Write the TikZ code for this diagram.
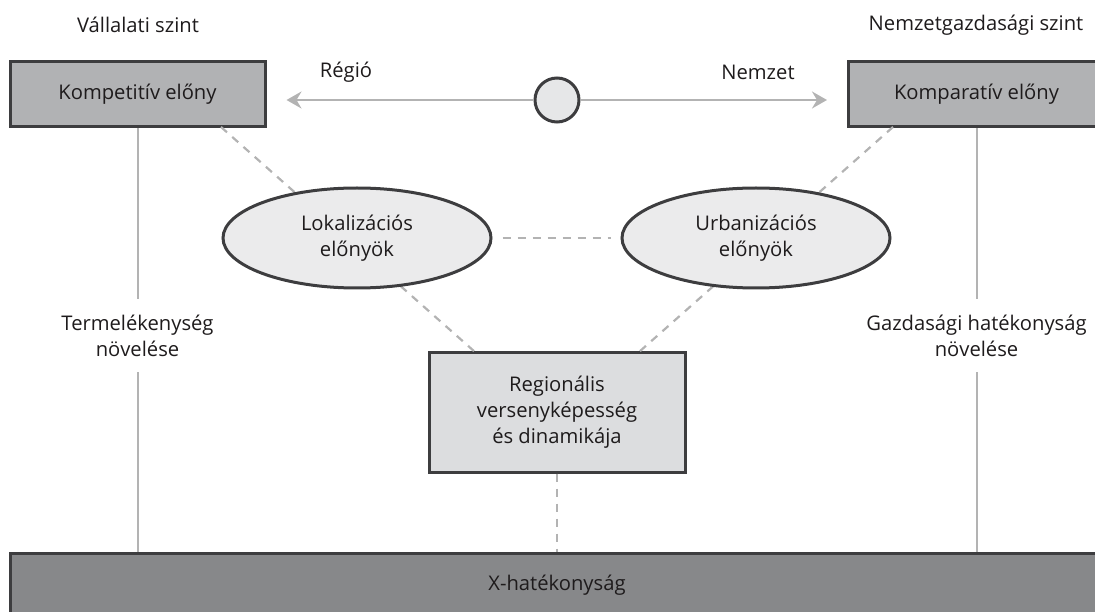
\documentclass[tikz,border=0pt]{standalone}
\usepackage{fontspec}
\setmainfont{Open Sans}
\usetikzlibrary{shapes,arrows,arrows.meta}

\definecolor{txtgray}{HTML}{1E1B1C}
\definecolor{edgegray}{HTML}{3D3D3F}
\definecolor{conngray}{HTML}{B3B3B3}
\definecolor{boxgray}{HTML}{B1B2B4}
\definecolor{xgray}{HTML}{87888A}
\definecolor{reggray}{HTML}{DCDDDF}
\definecolor{ellgray}{HTML}{EBEBEC}
\definecolor{circgray}{HTML}{E6E7E8}

\begin{document}
\begin{tikzpicture}[x=1pt,y=-1pt]
	\tikzstyle{every node}=[font=\fontsize{20.2}{26}\selectfont, text=txtgray]
	\tikzstyle{darkbox}=[draw=edgegray, line width=3, fill=boxgray, minimum height=65, inner sep=0]
	\tikzstyle{regbox}=[draw=edgegray, line width=3, fill=reggray, minimum width=256, minimum height=120, inner sep=0, align=center]
	\tikzstyle{xbox}=[draw=edgegray, line width=3, fill=xgray, minimum width=1094, minimum height=94, inner sep=0]
	\tikzstyle{advell}=[ellipse, draw=edgegray, line width=3, fill=ellgray, minimum width=268, minimum height=100, inner sep=0, align=center]
	\tikzstyle{solidconn}=[conngray, line width=2]
	\tikzstyle{dashconn}=[conngray, line width=2.2, dash pattern=on 8pt off 7pt]
	\tikzstyle{sidelbl}=[align=center, minimum height=73, inner sep=0]

	\useasboundingbox (0,0) rectangle (1095,612);

	%% levels
	\node (valszint) at (138,25) {Vállalati szint};
	\node (nemszint) at (976,25) {Nemzetgazdasági szint};

	%% boxes
	\node[darkbox, minimum width=255] (kompet) at (137.5,94.5) {Kompetitív előny};
	\node[darkbox, minimum width=256] (kompar) at (976.5,94.5) {Komparatív előny};
	\node[regbox] (region) at (557,412) {Regionális\\versenyképesség\\és dinamikája};
	\node[xbox] (xhat) at (557,600) {};
	\node (xhatlbl) at (557,585) {X-hatékonyság};

	%% centre and arrows
	\node[circle, draw=edgegray, line width=3, fill=circgray, minimum size=44, inner sep=0] (kozep) at (557,100) {};
	\draw[solidconn, -{Stealth[length=15pt, width=17pt, inset=5pt]}, shorten >=20pt] (kozep) -- (kozep -| kompet.east);
	\draw[solidconn, -{Stealth[length=15pt, width=17pt, inset=5pt]}, shorten >=20pt] (kozep) -- (kozep -| kompar.west);
	\node (regio) at (346,72) {Régió};
	\node (nemzet) at (758,72) {Nemzet};

	%% side lines
	\node[sidelbl] (termlbl) at (137.5,335.5) {Termelékenység\\növelése};
	\node[sidelbl] (gazdlbl) at (976.5,335.5) {Gazdasági hatékonyság\\növelése};
	\draw[solidconn] (kompet.south) -- (termlbl.north);
	\draw[solidconn] (termlbl.south) -- (termlbl.south |- xhat.north);
	\draw[solidconn] (kompar.south) -- (gazdlbl.north);
	\draw[solidconn] (gazdlbl.south) -- (gazdlbl.south |- xhat.north);

	%% dashed links (behind the ellipses)
	\coordinate (kompetfoot) at (221,127);
	\coordinate (komparfoot) at (893,127);
	\coordinate (regleft) at (475,352);
	\coordinate (regright) at (639,352);
	\draw[dashconn] (kompetfoot) -- (regleft);
	\draw[dashconn] (komparfoot) -- (regright);
	\draw[dashconn] (region.south) -- (region.south |- xhat.north);

	%% ellipses
	\node[advell] (lokal) at (357,238) {Lokalizációs\\előnyök};
	\node[advell] (urban) at (756,238) {Urbanizációs\\előnyök};
	\draw[dashconn, shorten <=10pt, shorten >=10pt] (lokal) -- (urban);

\end{tikzpicture}
\end{document}
